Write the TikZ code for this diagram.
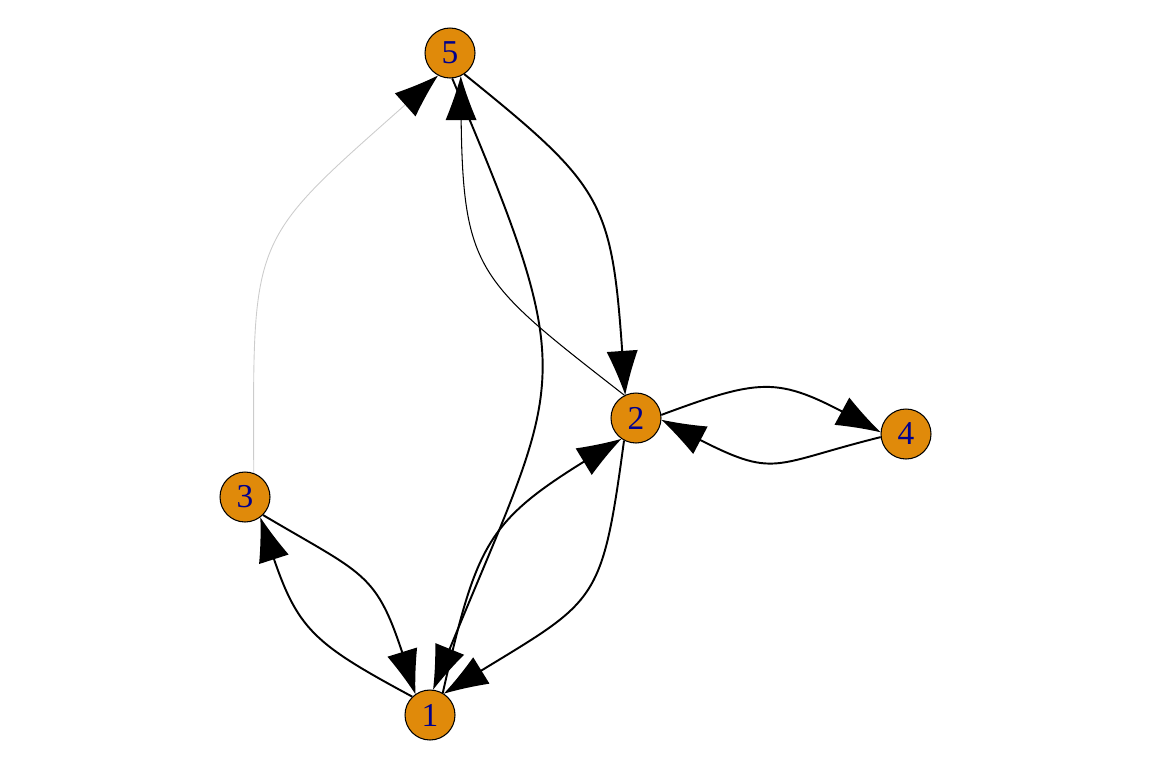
\documentclass[tikz,border=0pt]{standalone}
\usepackage{fontspec}
\setmainfont{Liberation Serif}
\usepackage{tikz}
\usetikzlibrary{arrows.meta}
\usetikzlibrary{backgrounds}
\definecolor{vorange}{rgb}{0.88,0.54,0.04}
\definecolor{vlabel}{rgb}{0,0,0.55}
\definecolor{lightgray}{rgb}{0.8,0.8,0.8}
% concave arrow head
\pgfdeclarearrow{
  name = Spike,
  parameters = {\the\pgfarrowlength,\the\pgfarrowwidth},
  setup code = {
    \pgfarrowssettipend{\pgfarrowlength}
    \pgfarrowssetlineend{0.5\pgfarrowlength}
    \pgfarrowssetbackend{0pt}
    \pgfarrowshullpoint{\pgfarrowlength}{0pt}
    \pgfarrowsupperhullpoint{0pt}{0.5\pgfarrowwidth}
    \pgfarrowssavethe\pgfarrowlength
    \pgfarrowssavethe\pgfarrowwidth
  },
  drawing code = {
    \pgfpathmoveto{\pgfpoint{\pgfarrowlength}{0pt}}
    \pgfpathquadraticcurveto{\pgfpoint{0.5\pgfarrowlength}{0.2\pgfarrowwidth}}{\pgfpoint{0pt}{0.5\pgfarrowwidth}}
    \pgfpathlineto{\pgfpoint{0pt}{-0.5\pgfarrowwidth}}
    \pgfpathquadraticcurveto{\pgfpoint{0.5\pgfarrowlength}{-0.2\pgfarrowwidth}}{\pgfpoint{\pgfarrowlength}{0pt}}
    \pgfpathclose
    \pgfusepathqfill
  },
  defaults = {length=0.88cm, width=0.62cm}
}

\begin{document}
\begin{tikzpicture}[line cap=round,line join=round,x=0.02cm,y=-0.02cm,
  vtx/.style={circle,draw,line width=0.6pt,fill=vorange,text=vlabel,minimum size=1cm,inner sep=0pt,font=\fontsize{19}{19}\selectfont},
  edge/.style={line width=1.1pt,-{Spike[color=black]}},
  thinedge/.style={edge,line width=0.6pt},
  grayedge/.style={edge,line width=0.5pt,color=lightgray}]
\useasboundingbox (0,0) rectangle (1152,768);
\node[vtx] (v5) at (450,53) {5};
\node[vtx] (v2) at (636,418) {2};
\node[vtx] (v4) at (906,434) {4};
\node[vtx] (v3) at (245,497) {3};
\node[vtx] (v1) at (430,715) {1};
\begin{scope}[on background layer]
\draw[grayedge] (v3.70) .. controls (253,225) and (248,245) .. (v5.242);
\draw[thinedge] (v2.117) .. controls (473,277) and (462,272) .. (v5.295);
\draw[edge] (v5.275) .. controls (586,394) and (562,372) .. (v1.83);
\draw[edge] (v5.304) .. controls (609,191) and (612,201) .. (v2.115);
\draw[edge] (v1.60) .. controls (478,538) and (487,520) .. (v2.235);
\draw[edge] (v2.242) .. controls (601,611) and (597,599) .. (v1.57);
\draw[edge] (v3.315) .. controls (371,579) and (377,571) .. (v1.125);
\draw[edge] (v1.134) .. controls (307,640) and (296,628) .. (v3.307);
\draw[edge] (v2.7) .. controls (766,376) and (779,377) .. (v4.176);
\draw[edge] (v4.187) .. controls (764,466) and (778,481) .. (v2.356);
\end{scope}
\end{tikzpicture}
\end{document}
